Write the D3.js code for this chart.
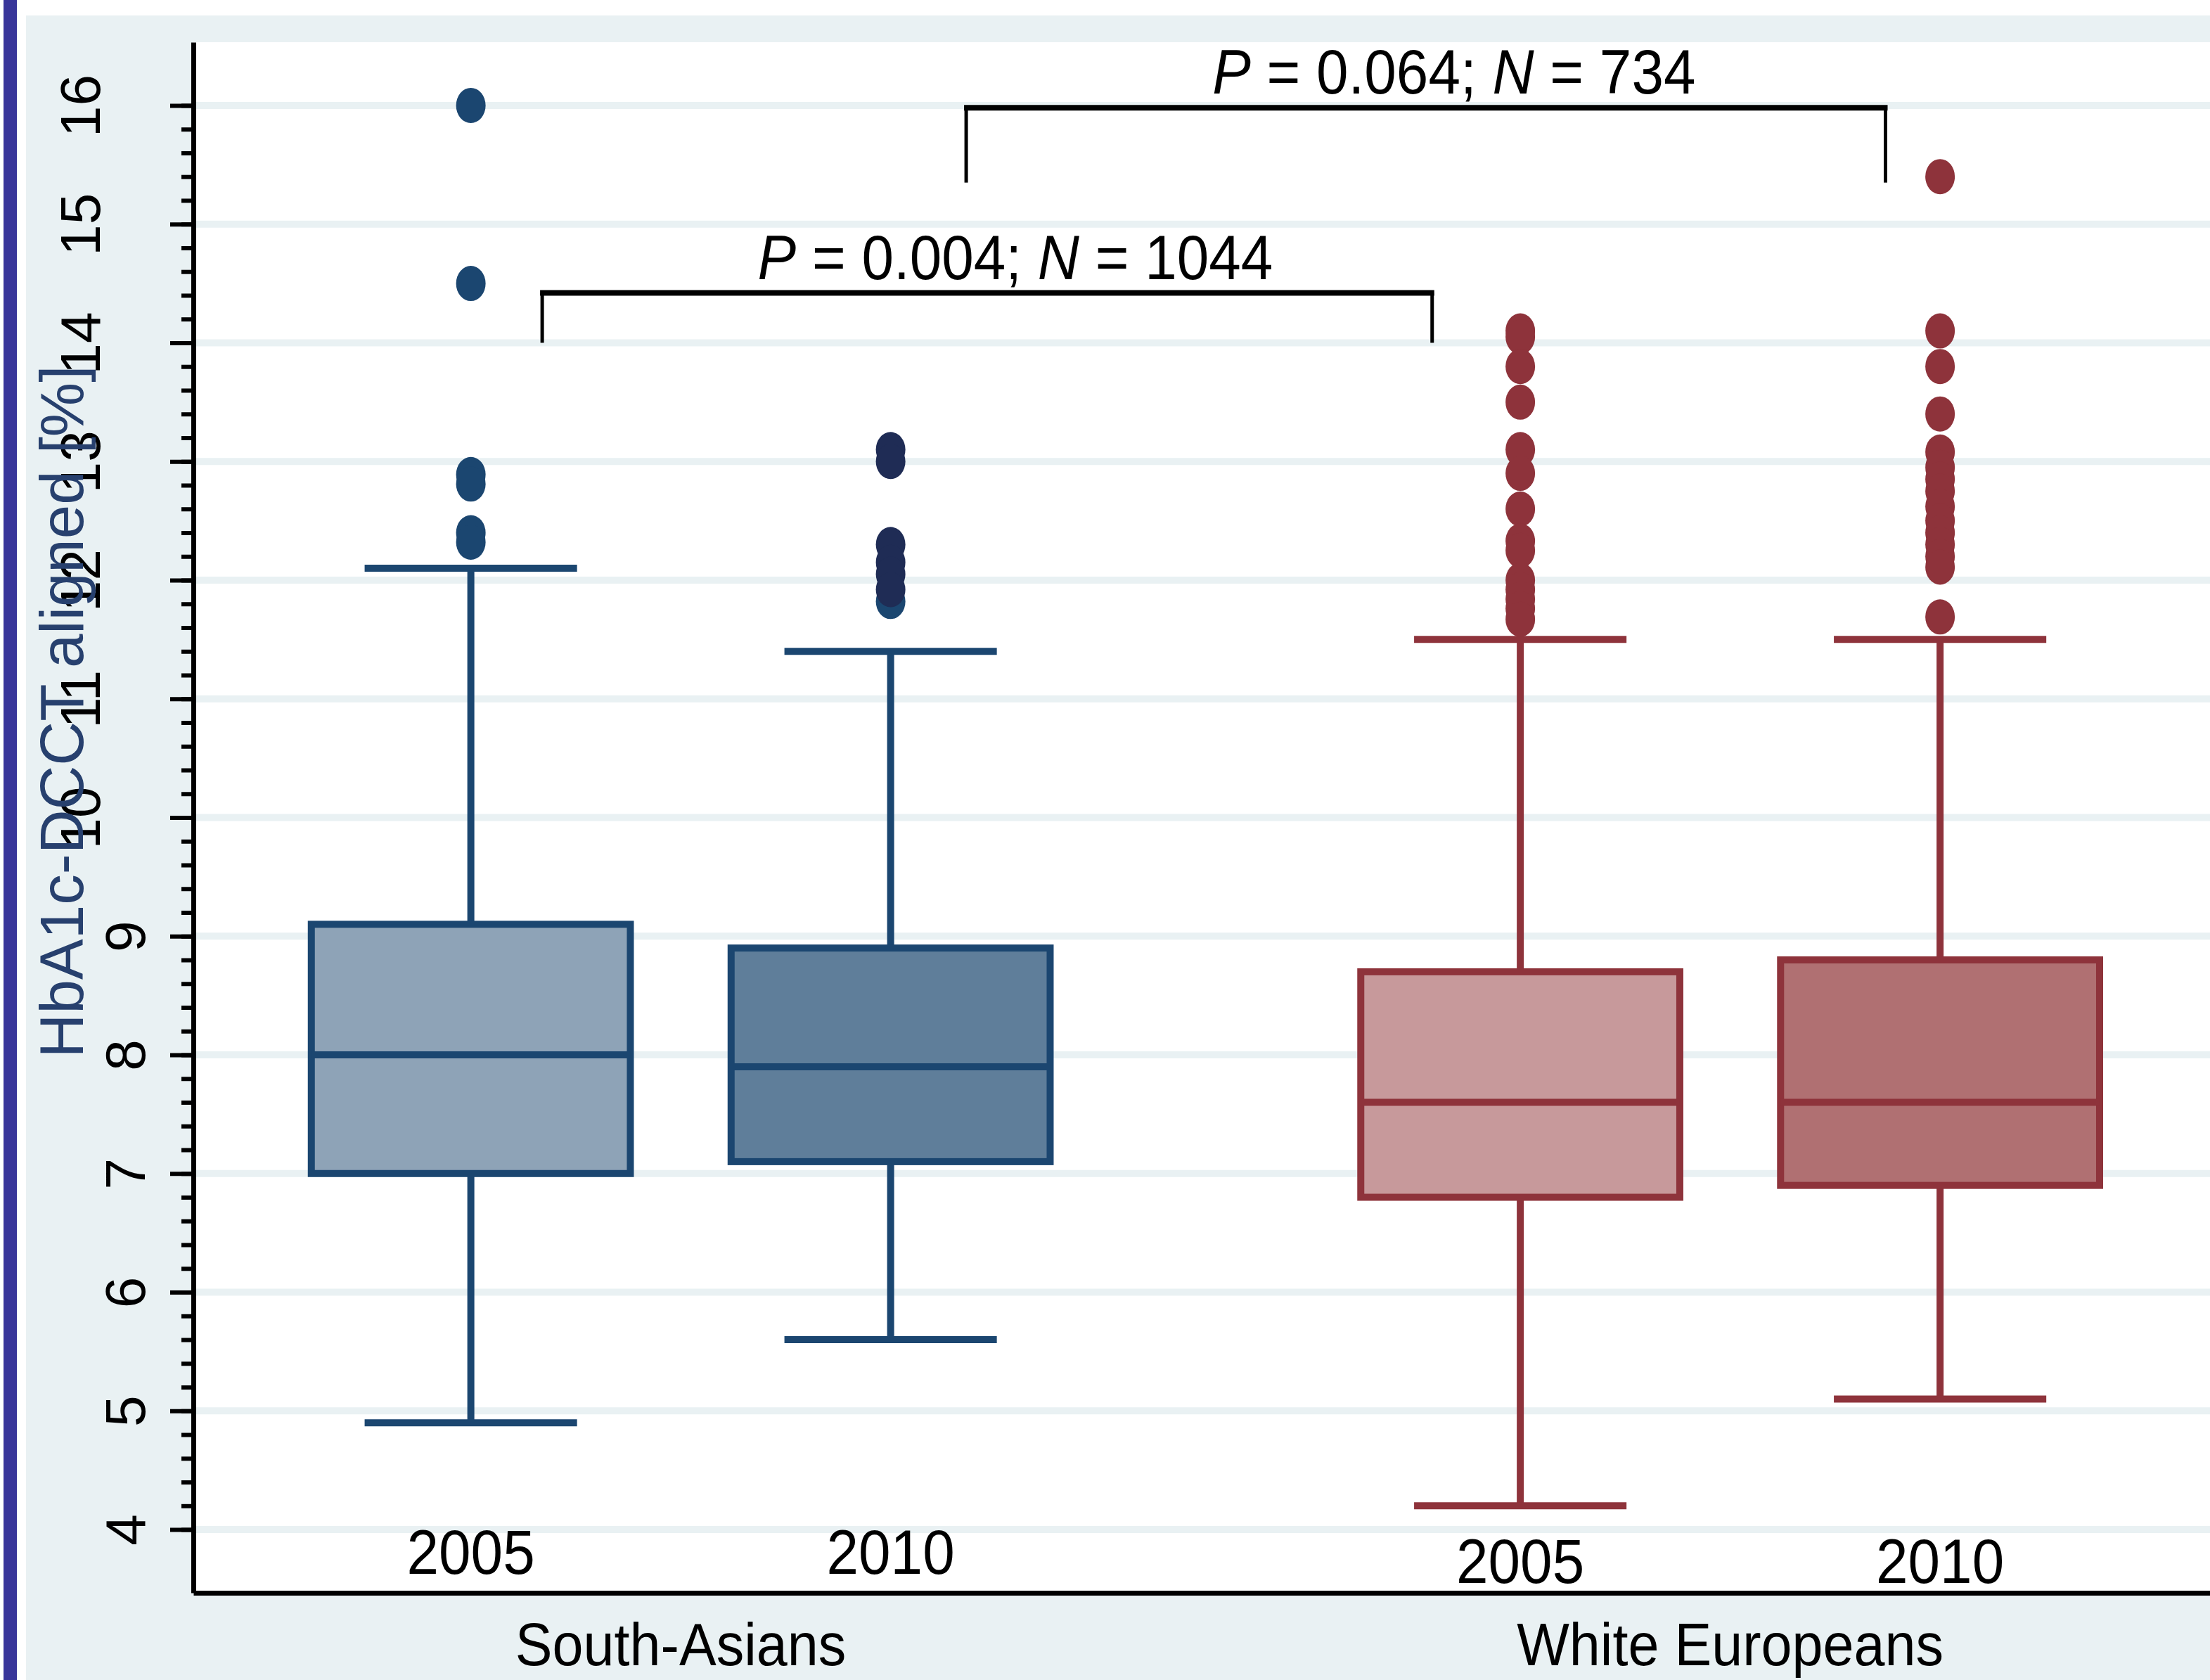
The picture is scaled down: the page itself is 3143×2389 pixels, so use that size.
<!DOCTYPE html>
<html>
<head>
<meta charset="utf-8">
<script src="https://cdn.jsdelivr.net/npm/d3@7"></script>
<style>
  body { margin: 0; background: #fff; }
  svg { display: block; }
  text { font-family: "Liberation Sans", Arial, sans-serif; }
</style>
</head>
<body>
<div id="chart"></div>
<script>
const W = 3143, H = 2389;

// data
const groups = ["South-Asians", "White Europeans"];
const years = ["2005", "2010", "2005", "2010"];
const boxGroup = [0, 0, 1, 1];
const boxPos = [0, 1, 2.5, 3.5];
const q1 = [7.0, 7.1, 6.8, 6.9];
const median = [8.0, 7.9, 7.6, 7.6];
const q3 = [9.1, 8.9, 8.7, 8.8];
const whiskLo = [4.9, 5.6, 4.2, 5.1];
const whiskHi = [12.1, 11.4, 11.5, 11.5];
const outliers = [
  [16.0, 14.5, 12.89, 12.81, 12.4, 12.32],
  [13.1, 13.0, 12.3, 12.15, 12.05, 11.92],
  [14.1, 14.05, 13.8, 13.5, 13.1, 12.9, 12.6, 12.33, 12.25, 12.0, 11.92, 11.84, 11.76, 11.67],
  [15.4, 14.1, 13.8, 13.4, 13.08, 12.95, 12.85, 12.75, 12.62, 12.5, 12.4, 12.3, 12.2, 12.11, 11.69]
];
const extraOutliers = [[], [11.82], [], []];
const yTicks = d3.range(4, 17);
const yMinor = d3.range(4, 16.01, 0.2);
const comparisons = [
  {from: 0.17, to: 2.29, top: 14.42, drop: 14.0, p: "0.004", n: "1044"},
  {from: 1.18, to: 3.37, top: 15.98, drop: 15.35, p: "0.064", n: "734"}
];

// styles
const boxFill = ["#8ea3b7", "#5f7e9a", "#c7999b", "#b07072"];
const boxStroke = ["#1b4670", "#1b4670", "#8e333b", "#8e333b"];
const dotColor = ["#1b4670", "#1f2c55", "#8e333b", "#8e333b"];
const gridColor = "#e9f1f3";

const svg = d3.select("#chart").append("svg")
  .attr("width", W)
  .attr("height", H);

// page background
svg.append("rect").attr("width", W).attr("height", H).attr("fill", "#fff");
svg.append("rect").attr("x", 5).attr("y", 0).attr("width", 19).attr("height", H).attr("fill", "#38369a");
svg.append("rect").attr("x", 37).attr("y", 22).attr("width", W - 37).attr("height", H - 22).attr("fill", gridColor);

let x = d3.scaleLinear().domain([-0.661, 4.143]).range([275, W]);
let y = d3.scaleLinear().domain([3.467, 16.533]).range([2265, 60]);

// plot area
svg.append("rect")
  .attr("x", x.range()[0]).attr("y", y.range()[1])
  .attr("width", x.range()[1] - x.range()[0])
  .attr("height", y.range()[0] - y.range()[1])
  .attr("fill", "#fff");

// gridlines
svg.append("g").selectAll("line")
  .data(yTicks).enter().append("line")
  .attr("x1", x.range()[0]).attr("x2", x.range()[1])
  .attr("y1", d => y(d)).attr("y2", d => y(d))
  .attr("stroke", gridColor).attr("stroke-width", 10);

// whiskers + caps
const capHalf = 0.253, boxHalf = 0.38;
const wg = svg.append("g");
boxPos.forEach((p, i) => {
  const cx = x(p);
  [[q3[i], whiskHi[i]], [q1[i], whiskLo[i]]].forEach(([a, b]) => {
    wg.append("line").attr("x1", cx).attr("x2", cx).attr("y1", y(a)).attr("y2", y(b))
      .attr("stroke", boxStroke[i]).attr("stroke-width", 10);
    wg.append("line").attr("x1", x(p - capHalf)).attr("x2", x(p + capHalf)).attr("y1", y(b)).attr("y2", y(b))
      .attr("stroke", boxStroke[i]).attr("stroke-width", 10);
  });
});

// boxes
svg.append("g").selectAll("rect")
  .data(boxPos).enter().append("rect")
  .attr("x", d => x(d - boxHalf))
  .attr("width", d => x(d + boxHalf) - x(d - boxHalf))
  .attr("y", (d, i) => y(q3[i]))
  .attr("height", (d, i) => y(q1[i]) - y(q3[i]))
  .attr("fill", (d, i) => boxFill[i])
  .attr("stroke", (d, i) => boxStroke[i])
  .attr("stroke-width", 10);

svg.append("g").selectAll("line")
  .data(boxPos).enter().append("line")
  .attr("x1", d => x(d - boxHalf)).attr("x2", d => x(d + boxHalf))
  .attr("y1", (d, i) => y(median[i])).attr("y2", (d, i) => y(median[i]))
  .attr("stroke", (d, i) => boxStroke[i]).attr("stroke-width", 10);

// outside values
const og = svg.append("g");
boxPos.forEach((p, i) => {
  extraOutliers[i].forEach(v => {
    og.append("ellipse").attr("cx", x(p)).attr("cy", y(v)).attr("rx", 21).attr("ry", 25).attr("fill", dotColor[0]);
  });
  outliers[i].forEach(v => {
    og.append("ellipse").attr("cx", x(p)).attr("cy", y(v)).attr("rx", 21).attr("ry", 25).attr("fill", dotColor[i]);
  });
});

// comparison brackets
const bg = svg.append("g");
comparisons.forEach(c => {
  bg.append("line").attr("x1", x(c.from)).attr("x2", x(c.from)).attr("y1", y(c.top)).attr("y2", y(c.drop))
    .attr("stroke", "#000").attr("stroke-width", 5);
  bg.append("line").attr("x1", x(c.to)).attr("x2", x(c.to)).attr("y1", y(c.top)).attr("y2", y(c.drop))
    .attr("stroke", "#000").attr("stroke-width", 5);
  bg.append("line").attr("x1", x(c.from) - 3).attr("x2", x(c.to) + 3).attr("y1", y(c.top)).attr("y2", y(c.top))
    .attr("stroke", "#000").attr("stroke-width", 8);
  let t = bg.append("text")
    .attr("transform", "translate(" + (x((c.from + c.to) / 2) + 40) + "," + (y(c.top) - 20) + ") scale(0.92,1)")
    .attr("text-anchor", "middle").attr("font-size", 89).attr("fill", "#000");
  t.append("tspan").attr("font-style", "italic").text("P");
  t.append("tspan").text(" = " + c.p + "; ");
  t.append("tspan").attr("font-style", "italic").text("N");
  t.append("tspan").text(" = " + c.n);
});

// y axis
const ax = svg.append("g").attr("transform", "translate(" + x.range()[0] + ",0)");
ax.append("g")
  .call(d3.axisLeft(y).tickValues(yMinor).tickSize(17).tickSizeOuter(0).tickFormat(""))
  .call(g => g.select(".domain").remove())
  .selectAll("line").attr("stroke", "#000").attr("stroke-width", 6);
ax.append("g")
  .call(d3.axisLeft(y).tickValues(yTicks).tickSize(33).tickSizeOuter(0))
  .call(g => g.select(".domain").attr("stroke", "#000").attr("stroke-width", 7))
  .call(g => g.selectAll(".tick line").attr("stroke", "#000").attr("stroke-width", 6))
  .call(g => g.selectAll(".tick text")
    .attr("x", null).attr("dy", null)
    .attr("transform", d => "translate(" + (String(d).length > 1 ? -133 : -69) + ",0) rotate(-90)")
    .attr("text-anchor", "middle")
    .attr("font-family", "Liberation Sans, Arial, sans-serif")
    .attr("font-size", 80).attr("fill", "#000"));

svg.append("text")
  .attr("transform", "translate(118,1012) rotate(-90)")
  .attr("text-anchor", "middle").attr("font-size", 87).attr("fill", "#27406e")
  .text("HbA1c-DCCT aligned [%]");

// x axis
svg.append("g")
  .attr("transform", "translate(0," + y.range()[0] + ")")
  .call(d3.axisBottom(x).tickValues([]).tickSizeOuter(0))
  .select(".domain").attr("stroke", "#000").attr("stroke-width", 7);

svg.append("g").selectAll("text")
  .data(years).enter().append("text")
  .attr("transform", (d, i) => "translate(" + x(boxPos[i]) + "," + (boxGroup[i] ? 2251 : 2238) + ") scale(0.92,1)")
  .attr("text-anchor", "middle").attr("font-size", 89).attr("fill", "#000")
  .text(d => d);

svg.append("g").selectAll("text")
  .data(groups).enter().append("text")
  .attr("transform", (d, i) => {
    const ps = boxPos.filter((p, j) => boxGroup[j] === i);
    return "translate(" + x(d3.mean(ps)) + ",2368) scale(0.92,1)";
  })
  .attr("text-anchor", "middle").attr("font-size", 86).attr("fill", "#000")
  .text(d => d);
</script>
</body>
</html>
